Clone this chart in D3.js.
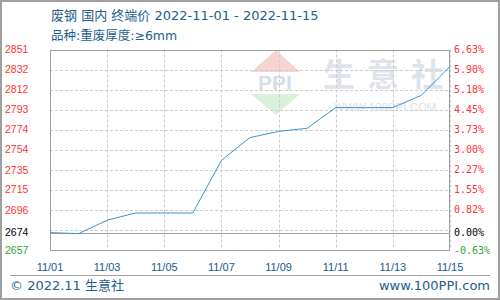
<!DOCTYPE html>
<html><head><meta charset="utf-8">
<script src="https://cdn.jsdelivr.net/npm/d3@7"></script>
<style>body{margin:0;background:#fff}svg{display:block}</style>
</head><body>
<svg id="c" width="500" height="300"></svg>
<script>
const dates = ["11/01","11/02","11/03","11/04","11/05","11/06","11/07","11/08","11/09","11/10","11/11","11/12","11/13","11/14","11/15"];
const prices = [2674,2673,2686,2693,2693,2693,2744,2766,2772,2775,2795,2795,2795,2807,2835];
const xTickLabels = ["11/01","11/03","11/05","11/07","11/09","11/11","11/13","11/15"];
const gridPct = [6.63,5.90,5.18,4.45,3.73,3.00,2.27,1.55,0.82,0.10,-0.63];
const leftLabels = ["2851","2832","2812","2793","2774","2754","2735","2715","2696","","2657"];
const rightLabels = ["6.63%","5.90%","5.18%","4.45%","3.73%","3.00%","2.27%","1.55%","0.82%","","-0.63%"];
const basePrice = 2674;
const baseLabelLeft = "2674";
const baseLabelRight = "0.00%";
const title = "废钢 国内 终端价 2022-11-01 - 2022-11-15";
const subtitle = "品种:重废厚度:≥6mm";
const footLeft = "© 2022.11 生意社";
const footRight = "www.100PPI.com";

const svg = d3.select("#c");
const L=50,R=450,T=49.5,B=250;
const x = d3.scalePoint().domain(dates).range([L,R]);
const yp = d3.scaleLinear().domain([-0.63,6.63]).range([B,T]);
const y = v => yp((v-basePrice)/basePrice*100);

// outer border
svg.append("rect").attr("x",1).attr("y",1).attr("width",498).attr("height",298)
  .attr("fill","#fff").attr("stroke","#a0a0a0").attr("stroke-width",2);

// watermark
const wm = svg.append("g");
wm.append("path").attr("d","M251,72 L276,50 L300,72 Z").attr("fill","#f6c9c4").attr("opacity",0.8);
wm.append("text").attr("x",275).attr("y",90).attr("text-anchor","middle")
  .attr("font-family","Liberation Sans, Arial").attr("font-weight","bold").attr("font-size",21)
  .attr("fill","#d6dcea").text("PPI");
wm.append("path").attr("d","M251,94 L300,94 L276,115 Z").attr("fill","#cfeed2").attr("opacity",0.8);
wm.append("text").attr("x",323).attr("y",86).attr("font-family","Noto Sans CJK SC")
  .attr("font-weight","bold").attr("font-size",32).attr("letter-spacing",12).attr("fill","#dfe3ec").text("生意社");
wm.append("text").attr("x",385).attr("y",111).attr("text-anchor","middle")
  .attr("font-family","Liberation Sans, Arial").attr("font-size",11.5).attr("fill","#e2e2e2").text("WWW.100PPI.COM");

// grid
const grid = svg.append("g").attr("stroke","#cccccc").attr("stroke-dasharray","3,2").attr("stroke-width",1);
gridPct.forEach(p=>{
  const yy = Math.round(yp(p))+0.5;
  grid.append("line").attr("x1",L).attr("x2",R).attr("y1",yy).attr("y2",yy);
});
xTickLabels.forEach(d=>{
  const xx = Math.round(x(d))+0.5;
  grid.append("line").attr("x1",xx).attr("x2",xx).attr("y1",T).attr("y2",B);
});

// base line
const by = Math.round(y(basePrice))+0.5;
svg.append("line").attr("x1",L).attr("x2",R).attr("y1",by).attr("y2",by).attr("stroke","#a0a0a0");

// frame
svg.append("rect").attr("x",L+0.5).attr("y",Math.round(T)+0.5).attr("width",R-L-1).attr("height",B-Math.round(T))
  .attr("fill","none").attr("stroke","#a0a0a0");

// line
svg.append("path").datum(prices.map((v,i)=>[dates[i],v]))
  .attr("d",d3.line().x(d=>x(d[0])).y(d=>y(d[1])))
  .attr("fill","none").attr("stroke","#3a93d3").attr("stroke-width",1);

// y labels
const lf = "Liberation Sans, Arial";
gridPct.forEach((p,i)=>{
  const col = i===gridPct.length-1 ? "#33a633" : "#ff3333";
  if(leftLabels[i]) svg.append("text").attr("x",5).attr("y",yp(p)).attr("dy","0.35em")
    .attr("font-family",lf).attr("font-size",10.5).attr("fill",col).text(leftLabels[i]);
  if(rightLabels[i]) svg.append("text").attr("x",454).attr("y",yp(p)).attr("dy","0.35em")
    .attr("font-family","DejaVu Sans Mono").attr("font-size",10).attr("fill",col).text(rightLabels[i]);
});
svg.append("text").attr("x",5).attr("y",y(basePrice)).attr("dy","0.35em")
  .attr("font-family",lf).attr("font-size",10.5).attr("fill","#000").text(baseLabelLeft);
svg.append("text").attr("x",454).attr("y",y(basePrice)).attr("dy","0.35em")
  .attr("font-family","DejaVu Sans Mono").attr("font-size",10).attr("fill","#000").text(baseLabelRight);

// x labels
xTickLabels.forEach(d=>{
  svg.append("text").attr("x",x(d)).attr("y",270.5).attr("text-anchor","middle")
    .attr("font-family",lf).attr("font-size",11).attr("fill","#1a5a8a").text(d);
});

// title
const tf = "DejaVu Sans, Noto Sans CJK SC";
svg.append("text").attr("x",51).attr("y",20).attr("font-family",tf).attr("font-size",13)
  .attr("fill","#1b5e8e").text(title);
svg.append("text").attr("x",51).attr("y",40).attr("font-family",tf).attr("font-size",12.5)
  .attr("fill","#1b5e8e").text(subtitle);

// footer
svg.append("line").attr("x1",10).attr("x2",490).attr("y1",275.5).attr("y2",275.5).attr("stroke","#a0a0a0");
svg.append("text").attr("x",10).attr("y",290).attr("font-family",tf).attr("font-size",13)
  .attr("fill","#1b5e8e").text(footLeft);
svg.append("text").attr("x",490).attr("y",290).attr("text-anchor","end").attr("font-family",tf).attr("font-size",13)
  .attr("fill","#1b5e8e").text(footRight);
</script>
</body></html>
